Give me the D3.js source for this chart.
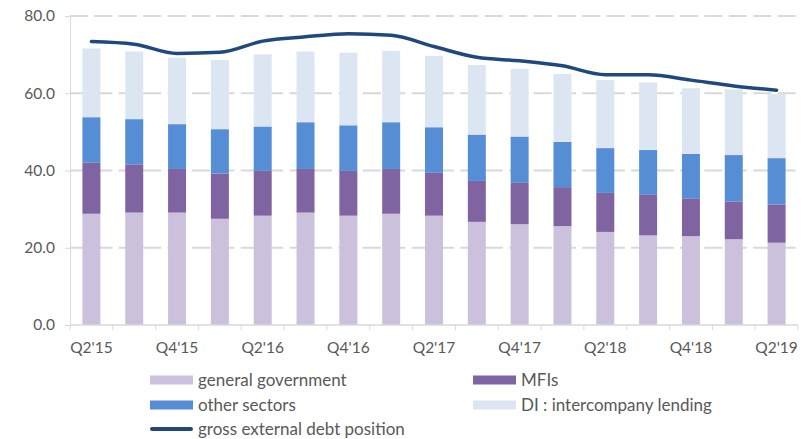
<!DOCTYPE html>
<html>
<head>
<meta charset="utf-8">
<script src="https://cdn.jsdelivr.net/npm/d3@7"></script>
<style>
  body { margin: 0; background: #fff; }
  svg text { font-family: Lato, "Open Sans", sans-serif; fill: #595959; }
</style>
</head>
<body>
<div id="chart"></div>
<script>
// quarters shown on the category axis
const quarters = ["Q2'15", "Q3'15", "Q4'15", "Q1'16", "Q2'16", "Q3'16", "Q4'16", "Q1'17", "Q2'17",
                  "Q3'17", "Q4'17", "Q1'18", "Q2'18", "Q3'18", "Q4'18", "Q1'19", "Q2'19"];

// stacked components
const generalGovernment = [28.8, 29.1, 29.1, 27.5, 28.3, 29.1, 28.3, 28.8, 28.3, 26.7, 26.1, 25.6, 24.1, 23.2, 23.0, 22.2, 21.3];
const mfis              = [13.3, 12.5, 11.3, 11.7, 11.6, 11.3, 11.6, 11.6, 11.1, 10.6, 10.7, 10.1, 10.1, 10.5, 9.8, 9.8, 9.9];
const otherSectors      = [11.7, 11.7, 11.6, 11.5, 11.5, 12.1, 11.8, 12.1, 11.8, 12.0, 12.0, 11.7, 11.6, 11.6, 11.5, 12.0, 12.0];
const diLending         = [17.8, 17.5, 17.2, 17.9, 18.7, 18.3, 18.8, 18.5, 18.5, 18.0, 17.5, 17.6, 17.6, 17.5, 17.0, 17.0, 16.6];

// line
const grossDebt = [73.4, 72.7, 70.3, 70.6, 73.5, 74.6, 75.4, 75.0, 72.1, 69.3, 68.4, 67.1, 64.8, 64.8, 63.4, 61.9, 60.8];

const yTicks = [0, 20, 40, 60, 80];

const series = [
  { key: 'gg',    name: 'general government',        values: generalGovernment, color: '#cbc1dc' },
  { key: 'mfi',   name: 'MFIs',                      values: mfis,              color: '#8064a2' },
  { key: 'other', name: 'other sectors',             values: otherSectors,      color: '#558ed5' },
  { key: 'di',    name: 'DI : intercompany lending', values: diLending,         color: '#dce6f2' }
];

const width = 805, height = 439;
const margin = { left: 70, right: 7, top: 16, bottom: 114 };

const svg = d3.select('#chart').append('svg').attr('width', width).attr('height', height);

const x = d3.scaleBand().domain(quarters).range([margin.left, width - margin.right]).paddingInner(0.58).paddingOuter(0.29);
const xb = d3.scaleBand().domain(quarters).range([margin.left, width - margin.right]);
const y = d3.scaleLinear().domain([0, 80]).range([height - margin.bottom, margin.top]);

// gridlines
svg.append('g')
   .selectAll('line')
   .data(yTicks.slice(1))
   .enter()
   .append('line')
   .attr('x1', margin.left).attr('x2', width - margin.right)
   .attr('y1', d => y(d)).attr('y2', d => y(d))
   .attr('stroke', '#d9d9d9').attr('stroke-width', 2)
   .attr('stroke-dasharray', '18,6.4');

// y axis
const yAxis = svg.append('g')
   .attr('transform', 'translate(' + margin.left + ',0)')
   .call(d3.axisLeft(y).tickValues(yTicks).tickFormat(d3.format('.1f')).tickSize(5).tickPadding(10));
yAxis.select('.domain').attr('stroke', '#d9d9d9');
yAxis.selectAll('.tick line').attr('stroke', '#d9d9d9');
yAxis.selectAll('text').style('font-size', '15.5px').attr('fill', '#595959');

// stacked bars
const rows = quarters.map((q, i) => {
  const r = { q: q };
  series.forEach(s => { r[s.key] = s.values[i]; });
  return r;
});
const stack = d3.stack().keys(series.map(s => s.key));
const layers = stack(rows);

svg.append('g')
   .selectAll('g')
   .data(layers)
   .enter()
   .append('g')
   .attr('fill', (d, i) => series[i].color)
   .selectAll('rect')
   .data(d => d)
   .enter()
   .append('rect')
   .attr('x', d => x(d.data.q))
   .attr('width', x.bandwidth())
   .attr('y', d => y(d[1]))
   .attr('height', d => y(d[0]) - y(d[1]));

// x axis
const xAxisY = y(0);
svg.append('line')
   .attr('x1', margin.left).attr('x2', width - margin.right)
   .attr('y1', xAxisY).attr('y2', xAxisY)
   .attr('stroke', '#d9d9d9').attr('stroke-width', 1.5);

const bounds = quarters.map(q => xb(q)).concat([xb.range()[1]]);
svg.append('g')
   .selectAll('line')
   .data(bounds)
   .enter()
   .append('line')
   .attr('x1', d => d).attr('x2', d => d)
   .attr('y1', xAxisY).attr('y2', xAxisY + 5)
   .attr('stroke', '#d9d9d9');

svg.append('g')
   .selectAll('text')
   .data(quarters.filter((q, i) => i % 2 === 0))
   .enter()
   .append('text')
   .attr('x', d => xb(d) + xb.bandwidth() / 2)
   .attr('y', xAxisY + 28)
   .attr('text-anchor', 'middle')
   .style('font-size', '15.5px')
   .text(d => d);

// line
const line = d3.line()
   .x((d, i) => xb(quarters[i]) + xb.bandwidth() / 2)
   .y(d => y(d))
   .curve(d3.curveMonotoneX);

svg.append('path')
   .datum(grossDebt)
   .attr('d', line)
   .attr('fill', 'none')
   .attr('stroke', '#1f497d')
   .attr('stroke-width', 3.5)
   .attr('stroke-linecap', 'round');

// legend
const legendItems = [
  { name: series[0].name, color: series[0].color, col: 0, row: 0 },
  { name: series[1].name, color: series[1].color, col: 1, row: 0 },
  { name: series[2].name, color: series[2].color, col: 0, row: 1 },
  { name: series[3].name, color: series[3].color, col: 1, row: 1 },
  { name: 'gross external debt position', color: '#1f497d', col: 0, row: 2, line: true }
];
const legendX = [150, 473], legendY = [380, 405, 429];

const lg = svg.append('g')
   .selectAll('g')
   .data(legendItems)
   .enter()
   .append('g')
   .attr('transform', d => 'translate(' + legendX[d.col] + ',' + legendY[d.row] + ')');

lg.filter(d => !d.line)
  .append('rect')
  .attr('x', 0).attr('y', -4.5).attr('width', 43).attr('height', 9)
  .attr('fill', d => d.color);

lg.filter(d => d.line)
  .append('line')
  .attr('x1', 2).attr('x2', 41).attr('y1', 0).attr('y2', 0)
  .attr('stroke', d => d.color).attr('stroke-width', 4).attr('stroke-linecap', 'round');

lg.append('text')
  .attr('x', 48).attr('y', 5.5)
  .style('font-size', '17px')
  .text(d => d.name);
</script>
</body>
</html>
